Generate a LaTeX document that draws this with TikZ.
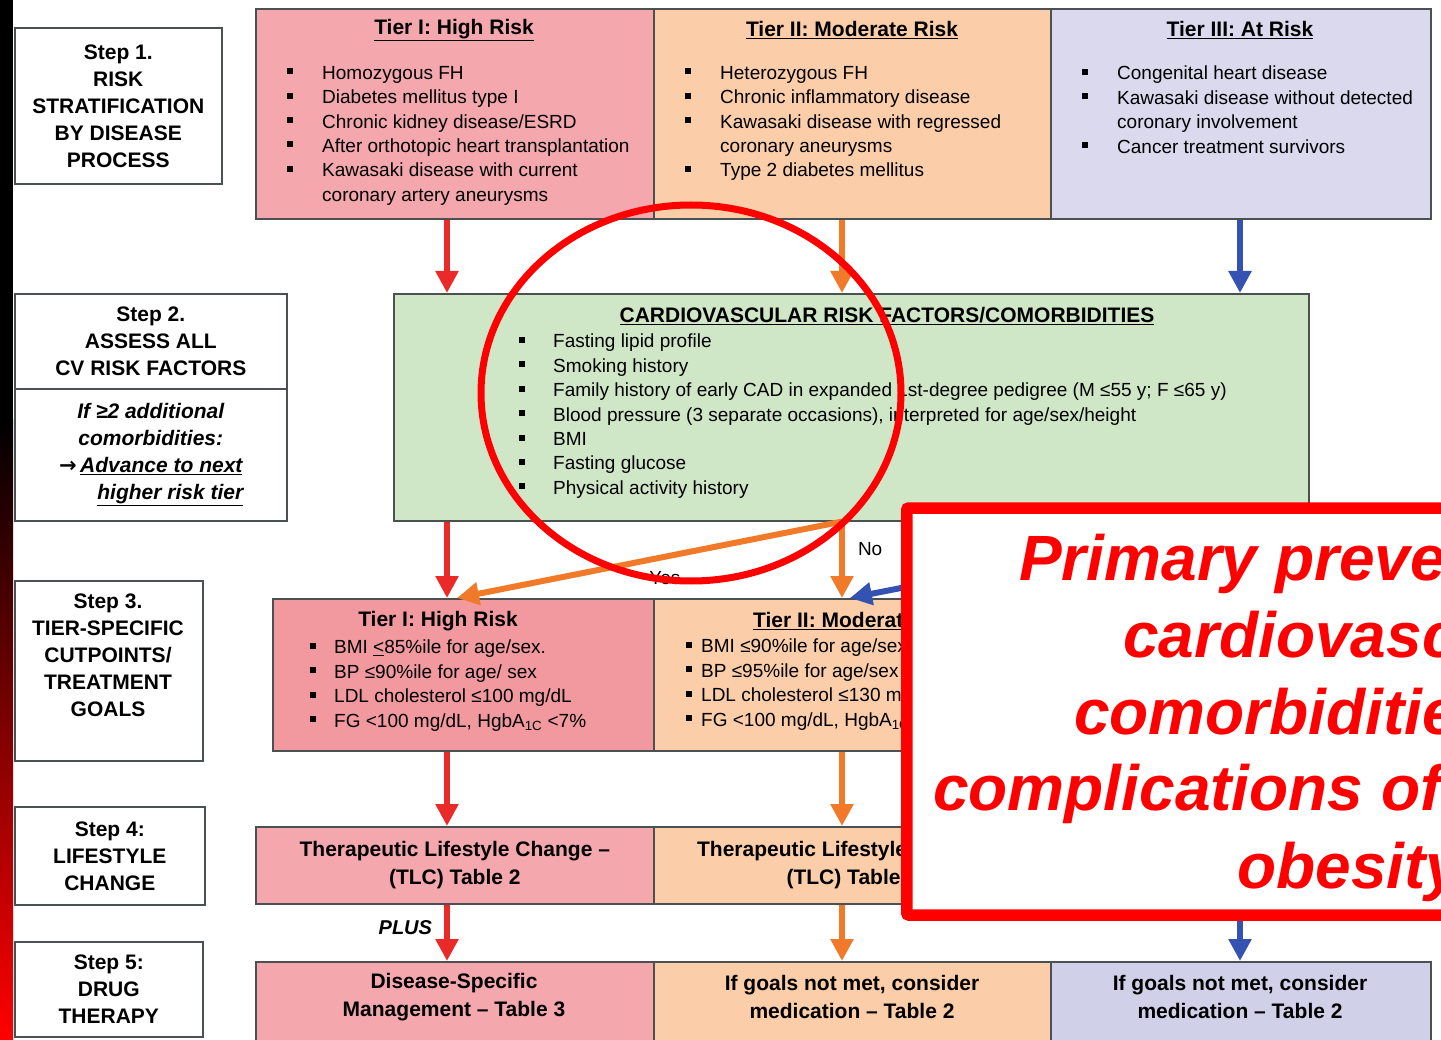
\documentclass[tikz,border=0pt]{standalone}
\usepackage{fontspec}
\setmainfont{Liberation Sans}
\newfontfamily\arrowfont{DejaVu Sans}
\usetikzlibrary{arrows.meta}

\definecolor{tierone}{RGB}{244,167,172}
\definecolor{tieronegoal}{RGB}{241,153,159}
\definecolor{tiertwo}{RGB}{251,205,169}
\definecolor{tierthree}{RGB}{218,217,238}
\definecolor{tierthreedrug}{RGB}{208,208,232}
\definecolor{cvgreen}{RGB}{208,231,199}
\definecolor{boxline}{RGB}{75,80,82}
\definecolor{arrred}{RGB}{234,42,40}
\definecolor{arrorange}{RGB}{240,122,42}
\definecolor{arrblue}{RGB}{52,82,178}
\definecolor{notered}{RGB}{255,0,0}

\newcommand{\stepfont}{\fontsize{21}{27}\selectfont\bfseries}
\newcommand{\bodyfont}{\fontsize{19}{24.4}\selectfont}
\newcommand{\bul}[1][35pt]{\makebox[#1][l]{\raisebox{5pt}{\rule{6pt}{6pt}}}}

\begin{document}
\begin{tikzpicture}[x=1pt,y=-1pt,
  stepbox/.style={draw=boxline, line width=1.6pt, fill=white, anchor=north west, align=center, font=\stepfont},
  tierbox/.style={draw=boxline, line width=1.6pt, anchor=north west},
  tierhead/.style={font=\stepfont},
  tierlist/.style={font=\bodyfont, align=left, anchor=north west},
  boxtext/.style={font=\fontsize{21}{28}\selectfont\bfseries, align=center},
  flowlabel/.style={font=\bodyfont, text=black},
  notetext/.style={font=\fontsize{64}{77}\selectfont\bfseries\itshape, text=notered, anchor=base west},
  flow/.style={line width=6pt, -{Triangle[width=22pt,length=22pt]}}]
  \tikzstyle{every node}+=[inner sep=0pt]
  \useasboundingbox (0,0) rectangle (1441,1040);
  \clip (0,0) rectangle (1441,1040);
  \fill[black] (0,0) rectangle (13,420);
  \shade[top color=black, bottom color=red] (0,420) rectangle (13,1040);

  \coordinate (c1) at (447,0);
  \coordinate (c1y) at (457,0);
  \coordinate (c2) at (842,0);
  \coordinate (c2b) at (850,0);
  \coordinate (c3) at (1240,0);

  \node[stepbox, minimum width=207pt, minimum height=156pt] (s1) at (14,27) {Step 1.\\RISK\\STRATIFICATION\\BY DISEASE\\PROCESS};
  \node[stepbox, minimum width=272pt, minimum height=95pt] (s2) at (14,293) {Step 2.\\ASSESS ALL\\CV RISK FACTORS};
  \node[stepbox, minimum width=272pt, minimum height=132pt, font=\stepfont\itshape] (s2x) at (14,388) {If ≥2 additional\\comorbidities:\\{\arrowfont\bfseries →}\,\underline{Advance to next}\\\hspace*{39pt}\underline{higher risk tier}};
  \node[stepbox, minimum width=188pt, minimum height=180pt] (s3) at (14,580) {};
  \node[font=\stepfont, align=center] (s3t) at (108,655) {Step 3.\\TIER-SPECIFIC\\CUTPOINTS/\\TREATMENT\\GOALS};
  \node[stepbox, minimum width=190pt, minimum height=98pt] (s4) at (14,806) {Step 4:\\LIFESTYLE\\CHANGE};
  \node[stepbox, minimum width=188pt, minimum height=95pt] (s5) at (14,941) {Step 5:\\DRUG\\THERAPY};

  \node[tierbox, fill=tierone, minimum width=398pt, minimum height=210pt] (t1) at (255,8) {};
  \node[tierbox, fill=tiertwo, minimum width=397pt, minimum height=210pt] (t2) at (653,8) {};
  \node[tierbox, fill=tierthree, minimum width=380pt, minimum height=210pt] (t3) at (1050,8) {};
  \node[tierhead] (t1h) at (454,30) {\underline{Tier I: High Risk}};
  \node[tierhead] (t2h) at (852,30) {\underline{Tier II: Moderate Risk}};
  \node[tierhead] (t3h) at (1240,30) {\underline{Tier III: At Risk}};
  \node[tierlist] (t1l) at (287,66) {\bul Homozygous FH\\\bul Diabetes mellitus type I\\\bul Chronic kidney disease/ESRD\\\bul After orthotopic heart transplantation\\\bul Kawasaki disease with current\\\hspace*{35pt}coronary artery aneurysms};
  \node[tierlist] (t2l) at (685,66) {\bul Heterozygous FH\\\bul Chronic inflammatory disease\\\bul Kawasaki disease with regressed\\\hspace*{35pt}coronary aneurysms\\\bul Type 2 diabetes mellitus};
  \node[tierlist] (t3l) at (1082,66) {\bul Congenital heart disease\\\bul Kawasaki disease without detected\\\hspace*{35pt}coronary involvement\\\bul Cancer treatment survivors};

  \node[tierbox, fill=cvgreen, minimum width=915pt, minimum height=227pt] (cv) at (393,293) {};
  \node[tierhead] (cvh) at (887,316) {\underline{CARDIOVASCULAR RISK FACTORS/COMORBIDITIES}};
  \node[tierlist] (cvl) at (519,334) {\bul[34pt]Fasting lipid profile\\\bul[34pt]Smoking history\\\bul[34pt]Family history of early CAD in expanded 1st-degree pedigree (M ≤55 y; F ≤65 y)\\\bul[34pt]Blood pressure (3 separate occasions), interpreted for age/sex/height\\\bul[34pt]BMI\\\bul[34pt]Fasting glucose\\\bul[34pt]Physical activity history};

  \node[tierbox, fill=tieronegoal, minimum width=381pt, minimum height=152pt] (u1) at (272,598) {};
  \node[tierbox, fill=tiertwo, minimum width=380pt, minimum height=152pt] (u2) at (653,598) {};
  \node[tierhead] (u1h) at (438,621) {Tier I: High Risk};
  \node[tierhead, anchor=west] (u2h) at (753,621) {\underline{Tier II: Moderate Risk}};
  \node[tierlist] (u1l) at (310,640) {\bul[24pt]BMI \underline{<}85\%ile for age/sex.\\\bul[24pt]BP ≤90\%ile for age/ sex\\\bul[24pt]LDL cholesterol ≤100 mg/dL\\\bul[24pt]FG <100 mg/dL, HgbA\textsubscript{1C} <7\%};
  \node[tierlist] (u2l) at (686,639) {\bul[15pt]BMI ≤90\%ile for age/sex\\\bul[15pt]BP ≤95\%ile for age/sex\\\bul[15pt]LDL cholesterol ≤130 mg/dL\\\bul[15pt]FG <100 mg/dL, HgbA\textsubscript{1C} <7\%};

  \node[tierbox, fill=tierone, minimum width=398pt, minimum height=77pt, boxtext] (v1) at (255,826) {Therapeutic Lifestyle Change –\\(TLC) Table 2};
  \node[tierbox, fill=tiertwo, minimum width=397pt, minimum height=77pt, boxtext] (v2) at (653,826) {Therapeutic Lifestyle Change –\\(TLC) Table 2};

  \node[tierbox, fill=tierone, minimum width=398pt, minimum height=100pt] (w1) at (255,961) {};
  \node[tierbox, fill=tiertwo, minimum width=397pt, minimum height=100pt] (w2) at (653,961) {};
  \node[tierbox, fill=tierthreedrug, minimum width=380pt, minimum height=100pt] (w3) at (1050,961) {};
  \node[boxtext] (w1t) at (454,997) {Disease-Specific\\Management – Table 3};
  \node[boxtext] (w2t) at (852,997) {If goals not met, consider\\medication – Table 2};
  \node[boxtext] (w3t) at (1240,997) {If goals not met, consider\\medication – Table 2};

  \draw[flow, arrred] (c1 |- t1.south) -- (c1 |- cv.north);
  \draw[flow, arrorange] (c2 |- t2.south) -- (c2 |- cv.north);
  \draw[flow, arrblue] (c3 |- t3.south) -- (c3 |- cv.north);
  \draw[flow, arrred] (c1 |- cv.south) -- (c1 |- u1.north);
  \draw[flow, arrorange] (c2 |- cv.south) -- node[pos=0.36, anchor=west, xshift=13pt, flowlabel] (no) {No} (c2 |- u2.north);
  \draw[flow, arrblue] (c3 |- cv.south) -- (c2b |- u2.north);
  \draw[flow, arrorange] (c2 |- cv.south) -- node[pos=0.46, below=12pt, flowlabel] (yes) {Yes} (c1y |- u1.north);
  \draw[flow, arrred] (c1 |- u1.south) -- (c1 |- v1.north);
  \draw[flow, arrorange] (c2 |- u2.south) -- (c2 |- v2.north);
  \draw[flow, arrred] (c1 |- v1.south) -- node[pos=0.41, anchor=east, xshift=-12pt, flowlabel, font=\fontsize{20}{24}\selectfont\bfseries\itshape] (plus) {PLUS} (c1 |- w1.north);
  \draw[flow, arrorange] (c2 |- v2.south) -- (c2 |- w2.north);

  \node[draw=notered, line width=11.5pt, fill=white, rounded corners=2pt, anchor=north west, minimum width=560pt, minimum height=407pt] (note) at (901,502.25) {};
  \draw[flow, arrblue] (c3 |- note.south) -- (c3 |- w3.north);
  \foreach \x/\y/\t in {1019/580/Primary prevention, 1123/657/cardiovascular, 1074/734/comorbidities, 933/810/complications of, 1237/888/obesity}
    \node[notetext] (n\y) at (\x,\y) {\t};

  \draw[notered, line width=7pt] (691,393) ellipse [x radius=210pt, y radius=188pt];
\end{tikzpicture}
\end{document}
